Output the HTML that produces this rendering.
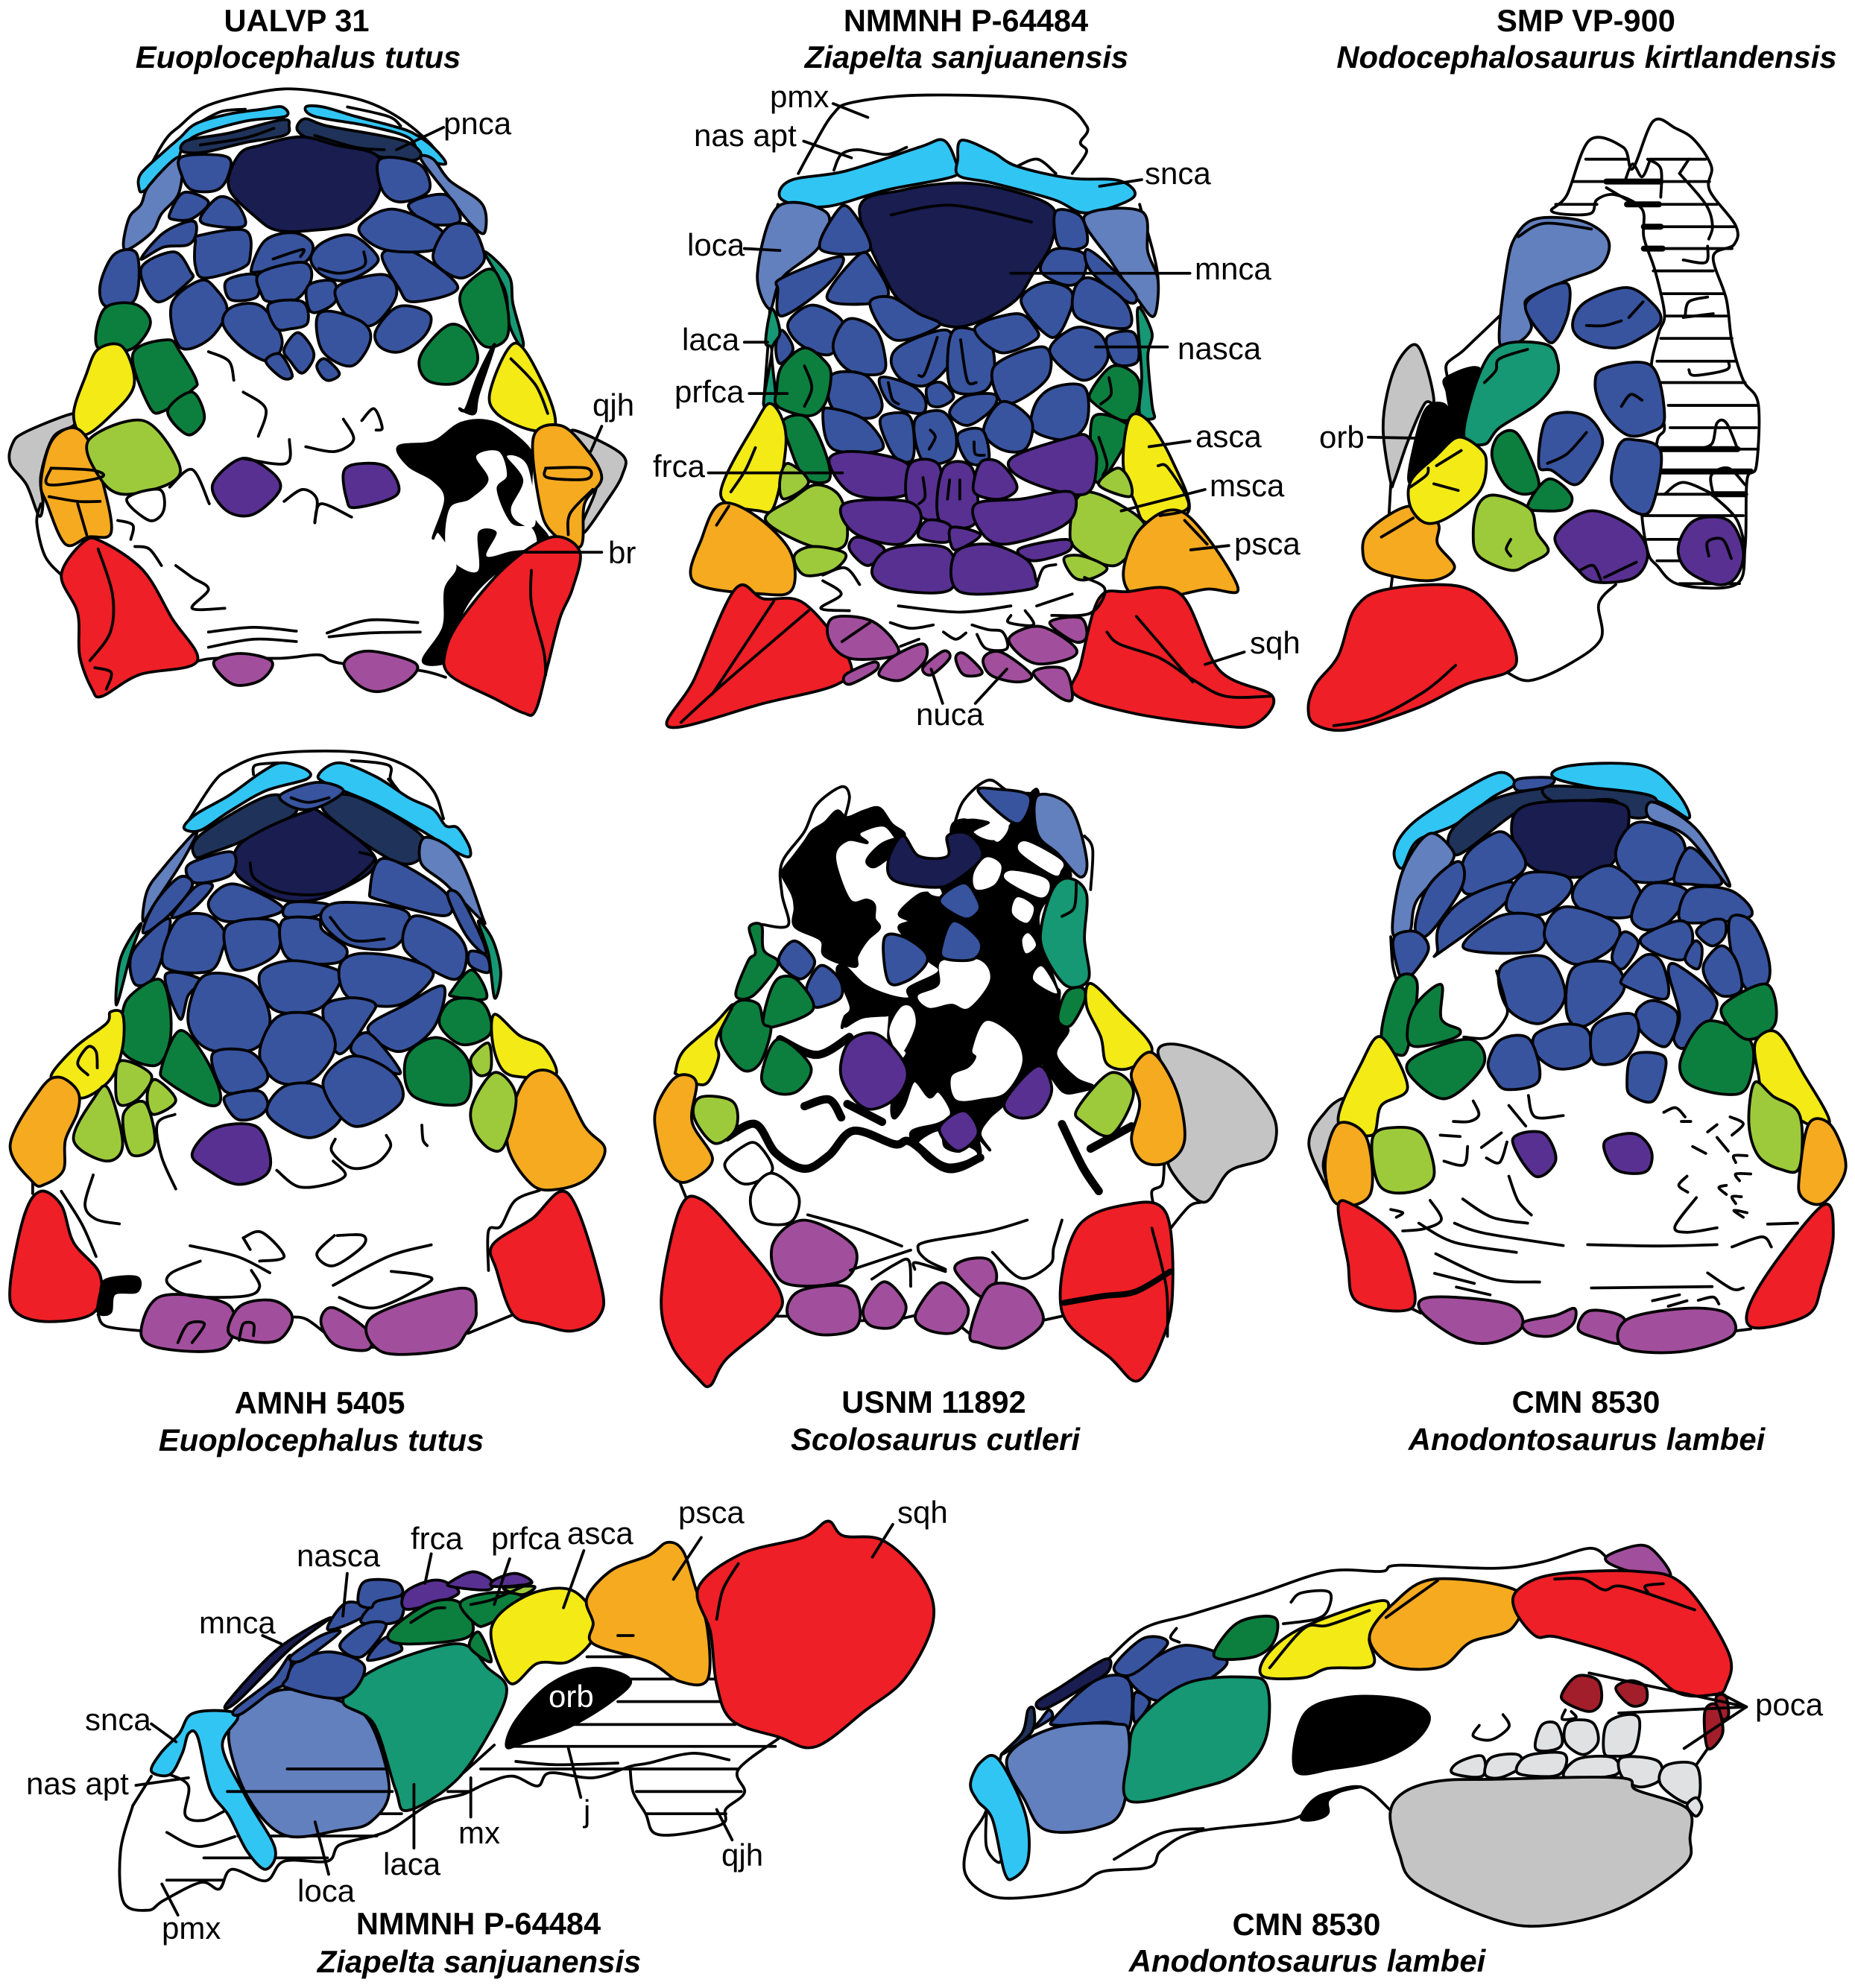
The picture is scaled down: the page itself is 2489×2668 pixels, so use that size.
<!DOCTYPE html>
<html><head><meta charset="utf-8"><style>
html,body{margin:0;padding:0;background:#fff}
svg{display:block}
polygon,polyline,path{vector-effect:non-scaling-stroke;stroke:#000;stroke-width:3.8;stroke-linejoin:round;stroke-linecap:round}
polyline,.o{fill:none}
.w polygon,.w path{fill:#fff}
.t{font:42px "Liberation Sans",sans-serif;fill:#000}
.h{font:bold 41.6px "Liberation Sans",sans-serif;text-anchor:middle}
.i{font:italic bold 41.8px "Liberation Sans",sans-serif;text-anchor:middle}
.th polyline,.th path{stroke-width:8}
.xx polyline,.xx path{stroke-width:11}
</style></head><body>
<svg xmlns="http://www.w3.org/2000/svg" width="2489" height="2668" viewBox="0 0 2489 2668">
<rect width="2489" height="2668" fill="#fff"/>

<!-- PANEL 1 -->
<g transform="scale(.5485,.6378)">
<g fill="#c4c4c4"><polygon points="180,870 60,910 30,935 25,975 65,1020 95,1085 105,1060 100,1000 130,920 180,895"/><polygon points="1400,905 1520,955 1522,1000 1480,1060 1430,1120 1425,1100 1460,1020 1440,960"/></g>
<polyline points="340,395 400,300 440,265 500,225 600,200 700,187 800,195 900,215 980,250 1050,300 1090,345"/>
<polyline points="100,1060 90,1100 110,1170 150,1210"/><polyline points="480,1392 530,1385 690,1385 780,1378 830,1395 1020,1410 1090,1425"/>
<polyline points="480,262 540,235 600,230"/><polyline points="850,225 950,245 980,265"/>
<g fill="#31c5f4"><polygon points="340,395 345,365 400,320 440,290 480,260 560,240 640,230 690,225 698,245 600,255 480,285 445,315 430,340 355,400"/><polygon points="748,225 790,225 870,245 960,265 1010,280 1060,310 1090,345 1030,330 1000,290 900,265 770,245"/></g>
<g fill="#1f3259"><polygon points="445,318 460,295 560,280 690,252 707,265 695,285 600,300 500,320"/><polygon points="728,275 745,250 800,265 930,285 1000,300 1030,325 1000,338 900,325 780,300"/></g>
<polygon fill="#191d50" points="560,395 585,325 640,305 735,288 820,305 925,330 925,410 860,470 760,485 680,485 630,460"/>
<g fill="#627fbe"><polygon points="305,525 315,460 345,430 365,390 440,330 438,405 395,450 370,490"/><polygon points="1030,335 1060,335 1100,380 1180,430 1185,490 1150,470 1100,415"/></g>
<g fill="#38549f">
<polygon points="445,330 555,330 558,370 530,400 470,400 445,370"/><polygon points="415,450 450,405 510,425 470,460 425,462"/><polygon points="490,460 535,415 580,430 598,475 520,475"/><polygon points="345,545 400,490 470,465 480,490 460,515 400,520"/><polygon points="478,510 490,495 600,485 612,540 590,565 500,585 478,560"/><polygon points="615,565 650,505 720,490 765,515 740,555 635,572"/><polygon points="760,545 790,510 860,495 920,535 915,560 850,590 790,580"/><polygon points="345,565 425,530 465,570 465,590 385,635"/><polygon points="555,590 625,578 632,620 600,632 560,628"/><polygon points="635,575 740,552 762,585 725,630 660,635 640,620"/><polygon points="755,600 815,592 820,635 770,658 752,640"/><polygon points="830,600 940,578 970,620 920,680 870,680 828,640"/><polygon points="935,535 1010,530 1120,605 1010,635 975,605"/><polygon points="420,640 490,590 530,610 555,655 510,715 440,730"/><polygon points="545,680 570,645 640,645 690,715 660,760 590,730"/><polygon points="658,640 740,635 752,680 710,692 675,690"/><polygon points="775,670 810,655 890,680 905,720 860,770 790,740"/><polygon points="920,695 975,645 1050,660 1040,705 980,740 930,730"/><polygon points="695,735 730,700 768,745 740,785 710,760"/><polygon points="650,760 685,745 715,790 690,795"/><polygon points="775,770 795,755 830,785 810,800 790,795"/><polygon points="930,335 1025,345 1050,400 980,425 935,400"/><polygon points="1000,430 1090,410 1125,465 1050,470"/><polygon points="878,480 960,440 1080,485 1065,525 940,525"/><polygon points="1060,545 1095,478 1150,475 1180,520 1180,555 1125,585"/><polygon points="245,600 280,535 335,535 330,630 260,645"/>
</g>
<polygon fill="#159873" points="1185,530 1245,580 1255,640 1280,720 1270,725 1245,680 1235,610"/>
<g fill="#0c7f3f"><polygon points="238,730 255,650 330,640 368,680 320,735"/><polygon points="325,745 410,715 440,740 480,800 470,820 400,865 365,855"/><polygon points="410,865 470,825 500,880 460,915"/><polygon points="1125,625 1165,580 1210,570 1240,640 1240,710 1190,730 1150,690"/><polygon points="1028,750 1095,685 1145,700 1168,760 1120,805 1045,800"/></g>
<g fill="#f3ea16"><polygon points="180,870 210,790 240,735 300,730 328,810 270,875 205,915"/><polygon points="1200,820 1260,722 1330,810 1358,895 1300,905 1215,870"/></g>
<g fill="#f5aa1f"><polygon points="100,1015 125,930 175,900 215,925 250,1010 272,1120 215,1130 160,1145 115,1060"/><polygon points="1305,920 1370,895 1430,940 1472,1005 1430,1060 1420,1150 1350,1120 1320,1060"/></g>
<polygon fill="#9dca3a" points="218,925 350,885 435,970 420,1015 300,1040 240,1000"/>
<polygon fill="#fff" points="310,1050 390,1030 400,1075 365,1095"/>
<g fill="#583091"><polygon points="520,1020 590,965 660,990 685,1030 620,1082 555,1075"/><polygon points="842,990 890,975 950,985 972,1040 870,1068 848,1050"/></g>
<polygon fill="#000" points="975,940 1060,930 1130,890 1210,890 1290,940 1300,980 1300,1080 1340,1130 1340,1170 1240,1190 1150,1260 1090,1370 1085,1395 1035,1390 1085,1320 1090,1240 1120,1190 1075,1120 1060,1130 1090,1050 1060,1010 1000,980"/>
<g fill="#fff"><polygon style="stroke:none" points="1165,960 1220,950 1240,1000 1215,1030 1250,1100 1300,1110 1310,1150 1250,1160 1190,1170 1215,1120 1170,1120 1170,1200 1120,1190 1090,1150 1100,1070 1150,1050 1195,1010"/><polygon style="stroke:none" points="1240,960 1290,980 1310,1100 1270,1100 1250,1070 1280,1010"/></g>
<polygon fill="#000" points="1140,860 1170,790 1210,725 1170,830 1160,870 1125,860"/>
<g fill="#ee1f26"><polygon points="150,1210 205,1140 250,1140 350,1200 420,1300 482,1392 340,1420 250,1465 225,1450 195,1380 190,1290"/><polygon points="1090,1370 1130,1300 1240,1190 1350,1130 1418,1160 1400,1240 1370,1300 1340,1400 1310,1495 1280,1500 1210,1470 1100,1420"/></g>
<g fill="#a14e9c"><polygon points="525,1390 590,1375 665,1392 640,1430 580,1442 540,1420"/><polygon points="842,1395 900,1370 1015,1395 1000,1430 930,1455 875,1440"/></g>
<polyline points="510,740 560,760 572,800"/><polyline points="595,825 650,860 632,918"/><polyline points="596,965 700,975 708,925"/><polyline points="748,940 820,950 865,925 840,882"/><polyline points="885,885 915,860 935,900 920,905"/><polyline points="415,1025 470,988 512,1060"/><polyline points="695,1055 740,1030 775,1050 770,1100 785,1060 860,1088"/><polyline points="288,1095 325,1105 320,1135"/><polyline points="330,1150 365,1155 395,1190"/><polyline points="430,1190 470,1215 510,1240 470,1280 550,1280"/><polyline points="510,1330 620,1320 725,1328"/><polyline points="510,1362 620,1345 725,1350"/><polyline points="800,1332 900,1305 1022,1310"/><polyline points="805,1340 900,1332 1028,1330"/><polyline points="240,1155 275,1250 270,1330 220,1390"/><polyline points="232,1405 272,1415 260,1450"/><polyline points="120,1045 190,1055 245,1055"/><polyline points="125,985 230,990 245,1005 120,1020 125,985"/><polyline points="190,1060 212,1125"/><polyline points="1335,985 1435,985 1435,1008 1340,1005 1335,985"/><polyline points="1390,1125 1395,1080 1450,1030"/><polyline points="1250,755 1310,810 1340,870"/><polyline points="1300,1200 1300,1270 1330,1370 1335,1420"/><polyline points="668,545 740,525 735,540"/><polyline points="780,565 830,575 890,560 890,530"/><polyline points="970,315 1085,268"/><polyline points="1445,950 1472,897"/><polyline points="1285,1162 1472,1162"/><polyline points="490,305 600,290 670,270"/><polyline points="770,285 870,310 940,315"/>
</g>

<!-- PANEL 2 -->
<g transform="translate(860,0) scale(.5485,.6378)">
<polyline points="385,365 420,310 470,240 520,215 700,200 1000,212 1090,265 1075,300 1090,320 1055,365"/>
<polyline points="472,358 490,325 530,315 600,325 650,310"/><polyline points="920,350 970,335 1015,365"/>
<polyline points="335,430 300,570 315,650 300,850"/><polyline points="1220,430 1265,590 1220,660 1250,880"/>
<g fill="#31c5f4"><polygon points="345,420 365,380 500,360 680,310 740,295 770,340 768,370 600,400 450,435"/><polygon points="785,295 860,320 920,350 1050,375 1170,380 1205,415 1090,448 1010,420 860,385 778,370 775,335"/></g>
<polygon fill="#191d50" points="535,437 640,400 780,385 900,400 1008,438 1005,510 960,575 905,640 775,688 660,650 600,590"/>
<g fill="#627fbe"><polygon points="335,435 455,448 435,520 345,585 315,650 285,575"/><polygon points="1085,455 1225,445 1240,530 1265,590 1255,665 1215,630 1150,550"/></g>
<g fill="#38549f"><polygon points="440,525 475,450 510,438 560,525"/><polygon points="335,610 345,585 490,540 455,600 345,665"/><polygon points="455,625 535,535 570,555 605,620 540,640"/><polygon points="560,640 610,625 680,660 730,685 620,715"/><polygon points="360,680 420,642 495,680 465,745 390,725"/><polygon points="470,730 505,672 570,690 595,740 590,785 510,780"/><polygon points="612,760 640,725 750,695 757,760 700,810 640,800"/><polygon points="750,780 765,695 840,705 865,760 845,820 770,825"/><polygon points="817,690 920,660 965,690 965,715 880,742"/><polygon points="1015,445 1075,455 1092,510 1060,525 1020,515"/><polygon points="978,570 1010,525 1085,535 1080,585 1040,600"/><polygon points="1090,525 1140,555 1210,620 1190,635 1100,570"/><polygon points="930,635 985,595 1050,610 1050,655 1005,710"/><polygon points="1060,610 1100,585 1185,635 1190,690 1070,670"/><polygon points="865,770 985,730 998,790 930,840 880,845"/><polygon points="1000,740 1060,690 1125,705 1140,760 1080,800"/><polygon points="1140,710 1205,700 1215,760 1160,765"/><polygon points="465,790 550,790 590,850 560,880 470,860"/><polygon points="585,795 660,810 695,840 685,870 610,850"/><polygon points="700,815 735,805 765,835 735,855 705,850"/><polygon points="755,870 790,835 865,830 860,860 800,895"/><polygon points="965,850 1010,815 1085,815 1090,890 1040,925 960,905"/><polygon points="838,905 885,845 955,885 940,945 880,945"/><polygon points="445,870 470,860 550,885 590,945 470,945"/><polygon points="585,890 610,870 660,880 665,965 620,960"/><polygon points="670,885 735,865 770,910 760,965 690,970"/><polygon points="775,915 835,905 850,970 800,972"/><polygon points="330,730 345,695 372,735 340,765"/></g>
<g fill="#159873"><polygon points="300,850 320,740 305,720 320,650 340,700 320,740 330,850"/><polygon points="1215,650 1250,700 1240,750 1250,850 1255,880 1220,870 1225,790"/></g>
<g fill="#0c7f3f"><polygon points="332,820 345,770 400,732 450,760 465,790 450,850 410,875 335,855"/><polygon points="348,885 405,878 450,950 460,1010 400,1005 360,930"/><polygon points="1100,825 1155,770 1215,795 1215,860 1180,885 1110,850"/><polygon points="1105,880 1185,890 1190,925 1115,1015"/></g>
<g fill="#f3ea16"><polygon points="195,1040 280,890 320,850 355,920 328,1060 290,1075"/><polygon points="1180,980 1195,880 1240,885 1300,970 1340,1075 1240,1100 1210,1060"/></g>
<g fill="#9dca3a"><polygon points="305,1095 370,1050 430,1020 490,1050 500,1145 420,1150"/><polygon points="340,1010 360,975 410,1015 350,1050"/><polygon points="1120,1020 1165,985 1195,1010 1195,1045"/><polygon points="1050,1110 1070,1045 1120,1040 1220,1090 1225,1125 1160,1190 1065,1155"/><polygon points="375,1170 420,1150 500,1165 470,1200 400,1210"/><polygon points="1035,1175 1080,1170 1140,1195 1100,1218 1060,1215"/></g>
<g fill="#583091"><polygon points="460,970 520,950 650,975 650,1040 520,1040"/><polygon points="660,975 730,980 730,1085 690,1090 650,1050"/><polygon points="740,985 810,985 818,1100 730,1095"/><polygon points="815,1010 835,970 880,975 920,1025 880,1050 820,1040"/><polygon points="905,965 1050,920 1095,920 1115,970 1085,1040 940,1010"/><polygon points="497,1060 650,1055 685,1095 635,1145 520,1120"/><polygon points="820,1060 930,1050 1050,1035 1058,1085 1000,1120 880,1145 825,1110"/><polygon points="680,1130 700,1095 755,1105 750,1140"/><polygon points="760,1110 830,1125 780,1155 760,1150"/><polygon points="510,1155 530,1130 595,1155 555,1190"/><polygon points="925,1155 1040,1135 1045,1160 960,1180"/><polygon points="565,1205 610,1155 750,1155 758,1240 620,1240"/><polygon points="768,1165 850,1145 940,1175 965,1215 950,1240 780,1245"/></g>
<g fill="#f5aa1f"><polygon points="130,1225 150,1130 195,1060 280,1085 365,1160 370,1240 300,1250"/><polygon points="1180,1210 1225,1110 1330,1080 1460,1235 1380,1240 1230,1262"/></g>
<g fill="#ee1f26"><polygon points="70,1530 130,1430 230,1240 300,1260 400,1270 510,1390 480,1440 300,1480"/><polygon points="1060,1460 1075,1400 1120,1260 1190,1245 1320,1250 1415,1410 1545,1465 1500,1525 1400,1525 1200,1500"/></g>
<g fill="#a14e9c"><polygon points="460,1345 470,1300 560,1305 620,1350 620,1380 510,1385"/><polygon points="1000,1310 1075,1300 1090,1340 1060,1350"/><polygon points="900,1345 975,1318 1060,1360 1050,1385 960,1395"/><polygon points="500,1420 570,1393 575,1410 510,1440"/><polygon points="585,1410 620,1380 690,1355 695,1390 640,1430 590,1425"/><polygon points="690,1405 740,1370 755,1385 710,1420"/><polygon points="770,1385 790,1375 835,1415 790,1420"/><polygon points="838,1385 880,1372 955,1420 920,1435 855,1420"/><polygon points="960,1415 1035,1408 1055,1470 1020,1465"/></g>
<polyline points="612,452 760,432 955,467"/><polyline points="470,218 555,247"/><polyline points="398,297 515,332"/><polyline points="253,523 340,527"/><polyline points="905,575 1343,575"/><polyline points="253,720 310,720"/><polyline points="265,828 358,828"/><polyline points="165,995 493,995"/><polyline points="1122,392 1225,378"/><polyline points="1112,730 1288,730"/><polyline points="1243,940 1343,928"/><polyline points="1175,1075 1380,1030"/><polyline points="1345,1157 1438,1148"/><polyline points="1380,1398 1476,1372"/><polyline points="710,1408 738,1480"/><polyline points="895,1408 818,1480"/>
<polyline points="400,770 418,815 400,855"/><polyline points="1145,795 1150,830 1125,850"/><polyline points="1120,920 1140,975 1130,1000"/><polyline points="280,942 255,990 220,1035"/><polyline points="1265,980 1290,985 1340,1065 1270,1085"/><polyline points="725,710 695,785 680,790"/><polyline points="782,715 798,800 820,805"/><polyline points="605,805 615,840 630,850"/><polyline points="690,1005 695,1045 680,1060"/><polyline points="755,1010 750,1050"/><polyline points="780,1010 780,1050"/><polyline points="708,905 720,920 705,945"/><polyline points="815,930 818,955 840,958"/><polyline points="445,1210 500,1195 535,1230"/><polyline points="445,1222 490,1250 440,1280 510,1285"/><polyline points="630,1275 780,1288 905,1275"/><polyline points="968,1275 1055,1250"/><polyline points="970,1225 985,1195 1015,1188"/><polyline points="1005,1295 1100,1290 1135,1240 1085,1215"/><polyline points="610,1310 660,1322 715,1315"/><polyline points="740,1330 770,1345 795,1332"/><polyline points="810,1315 850,1325 885,1330 895,1365 845,1365 822,1335"/><polyline points="905,1295 900,1310 960,1315 940,1285"/><polyline points="492,1350 560,1310"/><polyline points="635,1360 680,1345"/><polyline points="98,1520 200,1440 410,1285"/><polyline points="175,1460 325,1265"/><polyline points="1140,1330 1170,1355 1270,1385 1350,1430 1430,1465 1540,1465"/><polyline points="1212,1297 1300,1385 1350,1435"/><polyline points="1330,1095 1385,1145"/><polyline points="215,1065 185,1105"/></g>

<!-- PANEL 3 -->
<g transform="translate(1700,0) scale(.5032,.6378)">
<polyline points="330,1020 325,1090"/><polyline points="335,1210 330,1240"/><polyline points="620,665 560,710 520,740 480,765 480,790"/><polyline points="930,1230 885,1270 890,1345 800,1400 700,1432 640,1415"/>
<polygon fill="#fff" points="760,445 800,410 860,295 950,310 975,355 1030,255 1090,270 1140,295 1185,350 1180,400 1250,475 1245,515 1190,540 1225,630 1240,720 1270,800 1310,850 1305,980 1280,1010 1275,1150 1250,1230 1100,1230 1040,1190 1015,1160 1000,1070 1030,1040 1040,930 1060,900 1040,830 1025,770 1045,700 1060,660 1035,570 1005,500 1000,440 930,410 880,420 860,450"/>
<polyline points="850,335 960,335"/><polyline points="1020,335 1170,335"/><polyline points="815,382 905,382"/><polyline points="1040,382 1180,382"/><polyline points="770,430 880,430"/><polyline points="1050,430 1200,430"/><polyline points="1050,477 1250,477"/><polyline points="1050,523 1240,523"/><polyline points="1030,570 1190,570"/><polyline points="1050,618 1220,618"/><polyline points="1065,665 1225,665"/><polyline points="1050,712 1240,712"/><polyline points="1040,760 1250,760"/><polyline points="1050,805 1275,805"/><polyline points="1070,853 1310,853"/><polyline points="1075,900 1305,900"/><polyline points="1255,945 1310,945"/><polyline points="1025,1040 1190,1040"/><polyline points="1005,1085 1270,1085"/><polyline points="1015,1135 1275,1135"/><polyline points="1040,1180 1270,1180"/><polyline points="1100,1228 1260,1228"/>
<g class="th"><polyline points="905,382 1050,382"/><polyline points="960,430 1045,430"/><polyline points="1005,477 1050,477"/><polyline points="1005,523 1055,523"/><polyline points="1050,945 1255,945"/><polyline points="1030,992 1290,992"/><polyline points="1190,1040 1275,1040"/></g>
<polygon fill="#c4c4c4" points="330,1015 310,910 320,830 350,760 395,725 425,770 445,845 420,850 375,930 340,1010"/>
<polygon fill="#000" points="478,795 570,780 530,910 520,915 492,870 480,825"/><polygon fill="#000" points="380,1015 395,930 425,860 470,850 495,880 520,920 450,960"/>
<polygon fill="#627fbe" points="620,720 640,560 665,495 720,460 840,465 910,505 890,560 800,590 700,625 690,650 705,690 670,720"/>
<polygon fill="#159873" points="525,915 570,780 630,725 745,725 775,760 770,800 720,850 620,900 580,935"/>
<g fill="#38549f"><polygon points="690,640 795,595 805,650 775,710 745,715"/><polygon points="815,680 850,635 960,605 1030,640 1050,675 1010,705 930,732 840,715"/><polygon points="875,810 900,775 1025,770 1060,880 1020,910 960,915 900,870"/><polygon points="725,980 740,890 790,868 860,880 895,930 860,990 820,1020 760,990"/><polygon points="920,990 940,935 975,925 1050,950 1025,1070 975,1075 925,1030"/></g>
<g fill="#0c7f3f"><polygon points="600,960 620,915 670,915 725,1015 690,1040 635,1020"/><polygon points="695,1065 750,1008 810,1040 800,1070 740,1075"/></g>
<polygon fill="#f5aa1f" points="255,1155 280,1110 380,1065 455,1100 455,1145 500,1195 430,1222 285,1200"/>
<polygon fill="#f3ea16" points="380,1060 385,1010 450,960 510,920 570,945 585,975 570,1030 510,1075 450,1100 410,1095"/>
<polygon fill="#9dca3a" points="550,1120 565,1060 610,1042 700,1070 720,1120 750,1160 700,1185 650,1200 565,1170"/>
<g fill="#583091"><polygon points="768,1130 860,1075 975,1110 1015,1165 980,1215 880,1225 830,1200"/><polygon points="1097,1150 1140,1095 1230,1095 1270,1160 1250,1215 1200,1230 1120,1200"/></g>
<polygon fill="#ee1f26" points="110,1490 130,1440 190,1380 235,1280 320,1240 520,1235 620,1300 665,1380 640,1415 530,1440 400,1490 220,1535 130,1525"/>
<polyline points="178,1527 290,1510 420,1455 503,1400"/><polyline points="270,920 405,922"/><polyline points="580,805 610,780 620,755 695,735"/><polyline points="670,498 740,470 865,482"/><polyline points="852,685 900,685 945,675"/><polyline points="965,668 1003,635"/><polyline points="945,855 970,830 1000,842"/><polyline points="748,975 800,955 852,910"/><polyline points="452,980 518,948"/><polyline points="445,1018 510,1032"/><polyline points="382,1025 425,1000 430,985"/><polyline points="305,1130 390,1090"/><polyline points="650,1135 638,1155 650,1170"/><polyline points="835,1200 870,1190 890,1220"/><polyline points="900,1215 985,1183"/><polyline points="1178,1170 1175,1140 1215,1135 1238,1175"/><polyline points="1100,365 1125,335"/><polyline points="1100,365 1170,430 1188,475 1178,503"/><polyline points="1110,547 1170,552 1175,518"/><polyline points="1115,665 1125,635 1175,625"/><polyline points="1110,668 1190,660"/><polyline points="1125,778 1140,790 1225,778 1230,760"/><polyline points="1190,1040 1185,1000 1230,985 1275,1020"/><polyline points="1060,1040 1110,1015 1190,1040"/><polyline points="1185,1040 1250,1090 1275,1150"/><polyline points="905,395 980,430"/><polyline points="955,380 975,345 1000,372 1020,340"/><polyline points="1015,335 1050,355 1050,415"/><polyline points="1135,945 1185,935 1200,890 1225,890 1255,945"/></g>

<!-- PANEL 4 -->
<g transform="translate(0,980) scale(.5485,.625)">
<polyline points="450,210 520,115 560,85 640,55 760,45 900,50 1000,80 1060,130 1085,190"/>
<polyline points="620,95 625,75 680,70"/><polyline points="860,65 950,75 955,105 975,130 950,105"/><polyline points="80,970 80,995"/><polyline points="240,1255 260,1280 350,1290"/><polyline points="710,1260 750,1265 810,1305"/><polyline points="905,1325 930,1325"/><polyline points="1145,1295 1255,1255"/>
<g fill="#31c5f4"><polygon points="450,210 480,180 560,140 640,90 690,70 750,85 750,105 650,130 560,175 490,215"/><polygon points="780,95 830,70 920,100 1000,145 1060,170 1090,205 1120,210 1150,255 1135,270 1030,215 920,160 800,115"/></g>
<g fill="#1f3259"><polygon points="478,272 490,225 660,140 725,175 600,235 520,262"/><polygon points="790,170 860,140 1030,225 1022,280 950,275"/></g>
<polygon fill="#38549f" points="685,140 775,112 840,130 780,165 725,168"/>
<polygon fill="#191d50" points="578,255 640,215 750,175 790,180 920,280 815,350 730,368 660,355 580,310"/>
<g fill="#627fbe"><polygon points="350,410 360,345 400,295 470,225 480,225 440,290 380,370"/><polygon points="1030,285 1040,230 1120,270 1180,400 1175,405 1090,330"/></g>
<g fill="#159873"><polygon points="285,590 295,490 345,415 320,480"/><polygon points="1170,410 1205,450 1225,520 1210,575 1195,480"/></g>
<g fill="#38549f"><polygon points="455,300 480,280 568,262 565,310 480,328"/><polygon points="350,435 380,370 440,315 470,335 410,400"/><polygon points="420,400 480,335 520,335 470,385"/><polygon points="510,370 570,330 685,375 665,398 550,410"/><polygon points="905,345 940,275 1085,345 1090,398 930,365"/><polygon points="1095,355 1125,355 1180,450 1185,480 1140,440"/><polygon points="697,400 710,370 805,375 770,400"/><polygon points="785,405 830,370 995,390 965,465 850,460"/><polygon points="325,475 415,405 380,525 330,545"/><polygon points="400,505 430,410 500,395 548,430 545,470 510,518"/><polygon points="555,420 670,410 680,475 610,512 565,505"/><polygon points="690,410 775,405 790,430 848,470 820,500 705,490"/><polygon points="990,470 1010,400 1100,425 1140,470 1130,525 1090,530"/><polygon points="1150,475 1190,485 1195,520 1150,505"/><polygon points="405,525 490,535 460,570 440,620"/><polygon points="635,525 710,495 825,515 830,545 775,600 670,600"/><polygon points="830,510 875,480 990,490 1060,525 975,590 855,575"/><polygon points="460,625 495,530 590,530 640,565 660,630 620,685 510,685"/><polygon points="790,600 850,575 915,585 905,615 830,695"/><polygon points="900,640 990,590 1085,550 1060,640 975,690"/><polygon points="860,690 900,650 975,725 960,735"/><polygon points="635,695 680,615 780,615 820,680 765,750 680,755"/><polygon points="520,695 610,690 655,740 625,770 550,775"/><polygon points="548,795 570,780 635,775 655,805 630,830 580,835"/><polygon points="655,825 695,765 785,765 835,830 755,875"/><polygon points="790,760 860,700 960,735 980,800 865,850"/></g>
<g fill="#0c7f3f"><polygon points="300,605 325,565 390,535 415,590 415,670 380,720 300,690"/><polygon points="395,725 440,645 500,700 540,785 510,805 410,755"/><polygon points="1105,560 1155,515 1190,575 1110,572"/><polygon points="1075,630 1105,580 1180,585 1200,650 1130,675"/><polygon points="995,700 1070,660 1145,710 1135,800 1010,785"/></g>
<g fill="#f3ea16"><polygon points="125,742 185,680 260,630 270,605 300,610 300,680 270,750 200,790 165,755"/><polygon points="1205,670 1210,610 1270,655 1330,680 1360,740 1280,745 1230,730"/></g>
<g fill="#f5aa1f"><polygon points="25,890 100,770 145,745 190,775 190,820 160,880 155,945 110,975 80,970"/><polygon points="1240,880 1285,750 1360,740 1430,850 1480,900 1440,960 1370,985 1300,975"/></g>
<g fill="#9dca3a"><polygon points="283,770 295,710 370,740 340,790 295,805"/><polygon points="360,785 380,750 430,795 375,825"/><polygon points="180,880 230,790 265,770 300,890 258,925"/><polygon points="302,825 355,800 378,890 320,910"/><polygon points="1152,705 1195,672 1200,730 1170,740"/><polygon points="1155,805 1210,735 1262,785 1235,890 1200,900 1160,860"/></g>
<polygon fill="#583091" points="470,910 525,855 625,850 660,910 650,955 580,975 510,945"/>
<g fill="#ee1f26"><polygon points="25,1190 60,1040 100,990 150,1020 180,1100 245,1170 230,1250 120,1270 40,1250"/><polygon points="1205,1105 1300,1050 1390,995 1470,1190 1465,1260 1400,1290 1320,1275 1255,1255 1215,1160"/></g>
<g fill="#a14e9c"><polygon points="345,1295 395,1215 560,1235 550,1325 400,1328"/><polygon points="558,1290 590,1235 670,1225 715,1260 680,1310 600,1310"/><polygon points="785,1270 815,1240 900,1290 900,1330 820,1320"/><polygon points="910,1260 1130,1198 1165,1250 1140,1295 1095,1330 935,1335"/></g>
<polygon fill="#000" points="245,1210 260,1180 335,1175 335,1205 280,1210 270,1250 240,1250"/>
<polyline points="428,825 385,845 395,915 430,985"/><polyline points="228,955 208,1020 235,1050 292,1060"/><polyline points="150,990 200,1060 235,1130"/><polyline points="677,945 730,980 800,975 845,955 815,925"/><polyline points="820,878 812,905 860,940 920,930 955,895 945,870"/><polyline points="1032,848 1035,880 1045,892"/><polyline points="1320,988 1260,1010 1225,1065 1195,1075 1195,1160"/><polyline points="465,1107 580,1130 660,1165"/><polyline points="595,1090 640,1078 695,1130 635,1140"/><polyline points="595,1090 612,1115"/><polyline points="490,1140 420,1165 412,1190 470,1215 600,1215 635,1195 615,1160"/><polyline points="818,1085 775,1125 815,1150 885,1110 888,1085 825,1085"/><polyline points="815,1192 950,1130 1055,1105"/><polyline points="957,1162 1030,1170 1050,1185 920,1240 830,1218"/><polyline points="435,1315 460,1275 500,1275 470,1315"/><polyline points="585,1310 595,1275 620,1275 620,1300"/><polyline points="215,740 190,715 215,680 235,690 238,725"/><polyline points="612,285 625,320 700,350 820,345 915,280 880,262"/><polyline points="712,145 755,155 805,145"/><polyline points="808,402 860,450 940,448"/></g>

<!-- PANEL 5 black matrix -->
<g transform="translate(1000,1040) scale(.3333,.3571)">
<polygon fill="#000" points="150,360 200,300 240,250 270,210 320,180 370,135 410,160 480,135 540,125 590,185 640,220 620,250 560,190 470,210 460,230 490,255 410,245 360,310 420,470 490,470 520,490 520,540 540,575 490,620 450,680 440,720 320,680 305,620 200,570 200,500 190,450 150,380"/>
<polygon fill="#000" points="490,320 550,260 620,240 630,270 590,300 520,345"/>
<polygon fill="#000" points="840,180 980,175 920,220 1000,250 1060,200 1150,70 1180,70 1170,210 1240,270 1310,380 1230,450 1180,530 1200,640 1250,790 1265,820 1255,930 1300,960 1250,1050 1330,1140 1400,1170 1340,1190 1280,1190 1220,1120 1180,1090 1050,1230 980,1290 945,1350 985,1410 940,1370 940,1440 830,1490 750,1460 690,1400 670,1340 780,1310 830,1270 780,1190 740,1210 680,1150 640,1240 600,1290 590,1240 620,1100 650,1040 580,1000 570,880 420,910 390,950 400,910 425,870 370,740 400,720 480,790 580,830 660,840 660,800 780,740 730,690 620,580 660,550 620,520 700,450 780,430 830,300"/>
<g fill="#fff"><polygon style="stroke:none" points="920,370 970,310 1030,340 1005,410 930,430"/><polygon style="stroke:none" points="1105,290 1130,250 1270,320 1270,360 1240,375"/><polygon style="stroke:none" points="1050,395 1070,360 1200,385 1225,425 1185,460"/><polygon style="stroke:none" points="1075,520 1095,460 1160,495 1135,555"/><polygon style="stroke:none" points="1115,620 1140,595 1170,640 1130,670"/><polygon style="stroke:none" points="695,830 780,790 790,700 940,695 985,770 900,875 830,860 740,875"/><polygon style="stroke:none" points="580,960 625,875 670,875 685,940 640,1035 610,1040"/><polygon style="stroke:none" points="915,1030 970,925 1080,985 1115,1080 1050,1190 960,1215 850,1220 830,1135 900,1100 930,1060"/><polygon style="stroke:none" points="1160,770 1195,720 1255,820"/><polygon style="stroke:none" points="700,1380 780,1340 800,1400 860,1420 900,1400 930,1430 820,1460 730,1410"/><polygon style="stroke:none" points="735,430 780,425 790,455 750,450"/><polygon style="stroke:none" points="880,160 900,110 1000,130 1060,190 1020,250 980,230 920,215 985,180 930,165"/></g>
</g>

<!-- PANEL 5 -->
<g transform="translate(860,1020) scale(.5485,.5995)">
<polyline points="295,368 360,370 345,300 345,230 400,160 430,100 490,60 510,80 500,125"/><polyline points="765,150 790,90 850,45 900,70 960,75"/><polyline points="1085,170 1105,200 1100,290"/><polyline points="95,945 115,990"/><polyline points="1280,905 1275,950 1250,965 1255,1000"/><polyline points="1290,1055 1340,1000 1370,990"/><polyline points="325,1245 360,1245"/><polyline points="535,1255 545,1255"/><polyline points="640,1250 672,1243"/><polyline points="785,1270 805,1285"/><polyline points="980,1255 1030,1245"/>
<g class="xx"><polyline points="210,845 280,815 330,880 400,915 460,885 520,830 620,860 660,855 750,915 830,890"/><polyline points="1030,815 1080,910 1120,965"/><polyline points="1100,870 1200,820"/><polyline points="400,775 460,760 490,800"/><polyline points="505,770 590,810"/><polyline points="340,625 430,660 510,620"/><polyline points="500,590 540,570 600,565"/></g>
<polygon fill="#191d50" points="605,225 640,170 680,215 750,215 750,170 800,165 835,215 770,270 720,285 620,270"/>
<g fill="#38549f"><polygon points="730,315 790,275 825,315 825,340 790,355"/><polygon points="735,420 765,360 830,405 815,445 745,445"/><polygon points="595,400 640,395 695,430 695,460 650,495 605,495"/><polygon points="825,70 870,65 950,80 935,135 900,135"/><polygon points="337,450 375,405 425,450 390,490"/><polygon points="405,510 440,460 485,490 490,530 450,550 420,550"/></g>
<polygon fill="#627fbe" points="970,80 1050,105 1090,220 1075,262 1020,210 970,165"/>
<polygon fill="#159873" points="980,370 1010,285 1050,265 1090,300 1085,400 1095,490 1040,505 985,430"/>
<g fill="#0c7f3f"><polygon points="265,375 295,370 300,425 335,450 320,480 270,530 232,525 262,450 280,430"/><polygon points="300,575 320,510 345,485 385,495 420,560 310,600"/><polygon points="195,620 230,545 285,545 300,590 318,605 290,680 245,692"/><polygon points="295,710 335,625 415,685 385,740 330,745"/><polygon points="1020,580 1040,520 1080,510 1085,540 1050,595"/></g>
<polygon fill="#c4c4c4" points="1265,650 1330,640 1450,690 1530,770 1555,830 1530,890 1440,920 1375,990 1290,905 1330,850 1305,740"/>
<g fill="#f3ea16"><polygon points="85,695 105,650 180,590 225,548 185,625 190,665 165,720 135,725 90,705"/><polygon points="1090,550 1100,500 1170,560 1250,645 1195,690 1140,680 1125,620"/></g>
<g fill="#f5aa1f"><polygon points="37,780 85,710 135,720 125,810 175,895 110,945 65,920 40,850"/><polygon points="1200,850 1220,770 1200,700 1250,655 1310,740 1330,850 1290,900 1230,900"/></g>
<g fill="#9dca3a"><polygon points="130,800 145,755 225,765 232,825 180,858"/><polygon points="1068,780 1150,700 1205,745 1150,840 1080,810"/></g>
<g fill="#583091"><polygon points="490,710 510,630 580,615 650,690 625,755 550,780"/><polygon points="890,765 970,685 1005,735 975,790 920,800"/><polygon points="730,825 790,785 825,835 775,875"/></g>
<g class="w"><polygon points="205,905 250,865 285,860 322,915 280,945 240,945"/><polygon points="270,970 320,925 385,975 365,1035 285,1030"/></g>
<g fill="#a14e9c"><polygon points="322,1085 400,1030 522,1090 495,1165 350,1170"/><polygon points="360,1245 385,1190 500,1178 535,1225 520,1275 430,1285"/><polygon points="545,1225 595,1168 648,1220 620,1268 560,1265"/><polygon points="672,1240 735,1170 800,1225 770,1280 700,1275"/><polygon points="770,1145 790,1120 850,1118 870,1160 840,1205"/><polygon points="805,1285 850,1180 930,1180 970,1215 980,1265 900,1315 830,1305"/></g>
<g fill="#ee1f26"><polygon points="50,1200 95,1005 150,985 250,1080 340,1190 325,1250 210,1340 170,1400 140,1385 75,1310"/><polygon points="1030,1235 1065,1050 1190,995 1285,1015 1300,1200 1270,1310 1215,1390 1150,1340"/></g>
<g class="th"><polyline points="1035,1215 1130,1200 1210,1190 1295,1145"/></g>
<polyline points="1250,1048 1285,1180 1288,1290"/>
<polyline points="408,1018 530,1050 638,1088"/><polyline points="512,1142 660,1097"/><polyline points="945,1030 850,1055 700,1078 678,1095 700,1120 745,1140"/><polyline points="565,1162 620,1130 655,1120 660,1178"/><polyline points="670,1140 672,1125 745,1145"/><polyline points="860,1102 930,1160 1000,1130 1010,1090 1030,1030"/><polyline points="1030,350 1060,330 1065,275"/></g>

<!-- PANEL 6 -->
<g transform="translate(1700,1000) scale(.5032,.6122)">
<polygon fill="#c4c4c4" points="112,878 160,800 210,775 190,830 150,920 185,1005"/>
<polyline points="330,420 335,480 345,515"/><polyline points="385,1235 410,1245"/><polyline points="1240,1285 1290,1280"/>
<g fill="#31c5f4"><polygon points="340,230 390,170 520,100 620,60 660,85 600,115 500,175 400,210 360,270"/><polygon points="775,75 810,45 1000,45 1090,100 1125,160 1030,120"/></g>
<polygon fill="#38549f" points="668,75 760,72 750,90 670,100"/>
<g fill="#1f3259"><polygon points="490,190 600,120 750,95 750,125 660,150 510,240"/><polygon points="755,90 1020,110 1015,155 960,155 920,120 770,125"/></g>
<polygon fill="#191d50" points="652,185 700,130 925,125 965,165 920,260 820,290 700,265"/>
<g fill="#627fbe"><polygon points="335,410 360,280 430,195 490,225 490,260 400,340 380,410"/><polygon points="1020,160 1030,125 1140,180 1220,280 1225,305 1120,200"/></g>
<g fill="#38549f"><polygon points="525,250 590,200 640,195 690,260 640,300 530,325"/><polygon points="930,235 985,170 1095,195 1115,250 1075,295 970,295"/><polygon points="1085,295 1125,225 1190,270 1210,305 1130,305"/><polygon points="395,400 430,310 510,255 520,310 430,415"/><polygon points="455,450 460,395 530,335 650,300 630,350 460,455"/><polygon points="640,360 680,285 790,285 810,320 740,370"/><polygon points="815,335 840,290 920,265 995,320 970,375 860,370"/><polygon points="972,375 1020,305 1120,320 1075,385 1010,405"/><polygon points="1098,375 1130,315 1240,320 1290,375 1140,390"/><polygon points="525,445 620,375 730,380 720,450"/><polygon points="740,420 790,355 930,390 920,445 820,480"/><polygon points="1000,420 1100,385 1135,415 1110,470 1020,450"/><polygon points="920,465 950,410 990,435 950,490"/><polygon points="1145,410 1180,385 1220,385 1220,420 1185,440"/><polygon points="1235,380 1290,385 1335,460 1335,520 1280,535 1240,460"/><polygon points="1115,470 1140,430 1160,445 1150,490"/><polygon points="1165,480 1210,440 1250,470 1265,535 1215,550 1175,520"/><polygon points="340,420 400,410 430,450 370,515 345,480"/><polygon points="625,485 745,465 795,550 730,610 640,575"/><polygon points="800,590 815,490 920,478 950,540 850,615"/><polygon points="948,510 1010,460 1055,480 1065,555 960,530"/><polygon points="1070,495 1100,485 1200,565 1120,660 1085,645 1100,590"/><polygon points="985,585 1030,560 1095,590 1065,660 1000,630"/><polygon points="715,635 790,612 855,625 860,690 780,710 720,680"/><polygon points="865,630 900,600 975,590 990,635 950,690 875,695"/><polygon points="590,695 625,645 700,645 725,735 640,755 605,730"/><polygon points="960,745 975,680 1055,680 1060,720 1030,780 975,770"/></g>
<g fill="#0c7f3f"><polygon points="305,640 345,515 400,520 380,650 355,680"/><polygon points="375,620 400,565 465,525 465,600 515,625 490,645 390,660"/><polygon points="378,720 400,680 540,645 578,700 475,775"/><polygon points="1105,685 1175,605 1290,650 1280,750 1215,765 1120,740"/><polygon points="1215,595 1230,560 1335,525 1355,610 1280,645"/></g>
<g fill="#f3ea16"><polygon points="190,825 250,700 305,640 375,750 305,790 280,855"/><polygon points="1303,650 1360,630 1430,720 1500,825 1440,830 1330,760 1310,720"/></g>
<g fill="#f5aa1f"><polygon points="155,920 190,830 265,860 275,985 185,1005"/><polygon points="1420,940 1445,830 1500,830 1540,900 1535,950 1480,1005 1425,990"/></g>
<g fill="#9dca3a"><polygon points="282,860 345,838 415,855 445,945 380,980 300,965"/><polygon points="1300,740 1350,770 1420,810 1420,925 1370,930 1310,900 1285,830"/></g>
<g fill="#583091"><polygon points="655,865 735,850 770,910 715,945"/><polygon points="900,870 980,852 1025,890 1010,935 930,930"/></g>
<g fill="#ee1f26"><polygon points="190,1010 235,1010 335,1070 378,1145 385,1235 240,1220 215,1130"/><polygon points="1290,1275 1310,1190 1480,1010 1510,1075 1480,1180 1440,1250"/></g>
<g fill="#a14e9c"><polygon points="410,1240 440,1210 640,1225 680,1275 600,1310 510,1300"/><polygon points="685,1265 770,1250 820,1235 815,1270 760,1295 700,1290"/><polygon points="830,1280 860,1240 950,1255 950,1310 880,1300"/><polygon points="958,1260 1110,1235 1225,1245 1240,1295 1100,1330 950,1320"/></g>
<polyline points="612,495 635,560 638,595 590,640 525,640"/><polyline points="550,780 565,810 540,825 497,825"/><polyline points="645,790 690,835"/><polyline points="697,768 715,815 790,812"/><polyline points="462,855 515,858"/><polyline points="572,882 625,850"/><polyline points="472,912 525,920 535,880"/><polyline points="585,905 620,915 640,870"/><polyline points="645,945 670,1000 705,1030"/><polyline points="522,995 600,1035 695,1048"/><polyline points="500,1048 580,1070 790,1097"/><polyline points="362,1065 420,1060 465,1040 435,998"/><polyline points="330,1018 362,1025 345,1035"/><polyline points="405,1048 500,1090 665,1112"/><polyline points="450,1115 600,1170 727,1177"/><polyline points="447,1158 553,1180"/><polyline points="505,1188 595,1205"/><polyline points="855,1095 1040,1098 1200,1095"/><polyline points="865,1190 1187,1187"/><polyline points="1175,1157 1240,1192 1270,1190"/><polyline points="1028,1218 1100,1205"/><polyline points="1070,1230 1120,1218"/><polyline points="1150,1217 1190,1210 1205,1225"/><polyline points="1240,1100 1320,1078 1345,1100"/><polyline points="1335,1050 1415,1048"/><polyline points="1145,992 1088,1055 1120,1068 1200,1058"/><polyline points="1120,945 1098,965 1122,980"/><polyline points="1058,805 1090,795 1115,815"/><polyline points="1105,825 1130,825"/><polyline points="1175,848 1200,832"/><polyline points="1135,880 1170,895"/><polyline points="1200,860 1230,890"/><polyline points="1235,815 1270,830 1240,855"/><polyline points="1280,900 1245,900 1250,915"/><polyline points="1290,940 1250,940 1260,955"/><polyline points="1225,965 1205,970 1225,985"/><polyline points="1265,990 1240,990 1250,1005"/><polyline points="1280,1025 1245,1020 1270,1035"/></g>

<!-- PANEL 7 -->
<g transform="translate(0,1980) scale(.829,.4388)">
<polyline points="215,1010 195,1150 200,1305 240,1330 265,1300 325,1245 355,1265 375,1205 430,1240 460,1180 530,1180 550,1130 610,1100 640,1075 700,1000 750,975 790,940 830,920 870,950 890,910 960,925 1020,890 1050,880 1120,850 1180,870"/>
<polyline points="1020,900 1025,970 1045,1035 1060,1095 1110,1095 1170,1065 1175,1020 1205,970 1195,900 1260,805"/>
<polyline points="215,1010 245,920"/><polyline points="275,915 305,950 300,1040 330,1055 365,1025"/><polyline points="270,1092 320,1135 380,1105"/><polyline points="835,875 900,885 1000,880"/>
<polyline points="778,898 1195,898"/><polyline points="725,967 760,967"/><polyline points="1030,967 1200,967"/><polyline points="1045,1035 1175,1035"/><polyline points="950,555 1085,555"/><polyline points="1020,623 1160,623"/><polyline points="1000,692 1165,692"/><polyline points="925,762 1190,762"/><polyline points="820,829 1255,829"/><polyline points="385,1103 610,1103"/><polyline points="330,1170 530,1170"/><polyline points="270,1238 360,1238"/><polyline points="375,1035 650,1035"/>
<polygon fill="#627fbe" points="370,800 395,720 460,655 550,690 600,760 630,960 600,1060 550,1085 460,1100 400,980"/>
<polygon fill="#31c5f4" points="245,905 260,850 290,790 310,730 360,720 385,740 360,830 400,990 445,1140 430,1205 400,1150 370,1040 340,960 320,800 305,790 295,850 275,915"/>
<polygon fill="#191d50" points="368,695 450,530 535,435 470,530 385,690"/>
<polygon fill="#159873" points="555,690 610,590 740,515 790,590 820,650 800,760 740,930 660,1025 640,960 605,760"/>
<g fill="#38549f"><polygon points="380,715 440,625 470,550 465,630 440,660 390,730"/><polygon points="465,620 480,570 535,540 590,585 555,680 465,650"/><polygon points="470,555 520,490 550,480 490,565"/><polygon points="530,470 560,390 600,410 570,450"/><polygon points="585,450 610,385 650,370 645,445"/><polygon points="590,325 640,325 650,365 610,385 600,405 580,390"/><polygon points="550,520 590,455 625,460 585,555"/><polygon points="595,565 625,495 650,535"/></g>
<g fill="#583091"><polygon points="655,360 690,325 720,325 740,365 660,410"/><polygon points="730,325 765,295 795,320 790,350 730,340"/><polygon points="800,320 835,300 860,330 800,340"/></g>
<polygon fill="#9dca3a" points="815,345 865,340 845,365"/>
<g fill="#0c7f3f"><polygon points="630,480 690,395 740,385 765,450 750,500 650,515"/><polygon points="745,390 790,360 840,365 840,400 790,455 770,455"/><polygon points="760,525 775,480 795,570"/></g>
<polygon fill="#f3ea16" points="795,470 850,370 920,348 960,420 960,500 920,570 870,575 825,635"/>
<polygon fill="#f5aa1f" points="950,375 990,290 1050,245 1080,205 1105,230 1125,340 1145,470 1145,625 1100,630 1050,570 960,515 960,450"/>
<polygon fill="#ee1f26" points="1130,345 1200,240 1300,190 1340,140 1365,185 1430,200 1495,320 1510,450 1465,620 1400,720 1320,830 1260,800 1185,750 1160,640 1150,480"/>
<polygon fill="#000" points="820,830 835,750 890,640 960,590 1020,625 990,690 920,770 850,815"/>
<polyline points="465,898 625,898"/><polyline points="368,967 635,967"/><polyline points="425,490 455,515"/><polyline points="562,300 555,430"/><polyline points="698,240 688,330"/><polyline points="825,255 800,395"/><polyline points="945,230 912,405"/><polyline points="1135,190 1090,318"/><polyline points="1445,150 1412,250"/><polyline points="245,760 285,815"/><polyline points="220,948 305,925"/><polyline points="510,1060 532,1220"/><polyline points="670,945 670,1140"/><polyline points="762,925 762,1045"/><polyline points="800,825 750,910"/><polyline points="920,835 940,985"/><polyline points="1160,1022 1185,1115"/><polyline points="262,1250 288,1345"/><polyline points="1195,270 1170,350 1160,440"/><polyline points="665,450 700,410 720,405"/><polyline points="762,395 800,378 860,328"/><polyline points="1000,490 1025,490"/>
</g>

<!-- PANEL 8 -->
<g transform="translate(1240,2020) scale(.7966,.4133)">
<polyline points="130,810 105,990 75,1090 70,1200 115,1270 190,1270 260,1240 300,1190 380,1175 400,1120 460,1060 620,1020 665,950 735,915 785,990"/><polyline points="320,1150 400,1065 470,1050"/><polyline points="310,500 370,400 450,355 560,290 680,215 770,215 800,195 960,205 1040,185 1120,140 1150,170"/><polyline points="1300,845 1320,790"/><polyline points="105,1000 105,1110 125,1160 135,1130"/>
<polyline points="618,315 635,285 682,282 680,340 660,370 605,385"/><polyline points="425,400 415,430 430,445"/>
<polygon fill="#31c5f4" points="78,905 95,835 125,825 170,1000 175,1150 150,1212 135,1190 115,1020 90,960"/>
<polygon fill="#1f3259" points="130,810 165,740 175,665 185,665 180,740"/>
<polygon fill="#191d50" points="190,640 230,590 305,500 310,540 270,590 205,660"/>
<g fill="#38549f"><polygon points="220,690 290,568 345,570 345,725 310,705 225,715"/><polygon points="345,570 365,525 440,455 510,515 405,635"/><polygon points="320,525 370,432 410,450 350,550"/><polygon points="355,610 380,640 355,705"/><polygon points="195,700 210,665 215,690 185,725"/></g>
<polygon fill="#627fbe" points="140,820 215,725 320,710 345,750 335,980 290,1048 205,1055 170,960"/>
<polygon fill="#159873" points="345,810 360,700 440,580 540,558 578,590 575,760 530,870 460,920 345,960"/>
<polygon fill="#0c7f3f" points="490,470 530,380 590,365 590,440 560,490 500,500"/>
<polygon fill="#f3ea16" points="570,555 580,480 640,395 770,310 775,370 750,430 755,520 680,530 640,560"/>
<polygon fill="#f5aa1f" points="750,430 790,320 860,240 1000,280 990,400 920,445 870,525 790,520"/>
<polygon fill="#a14e9c" points="1148,170 1205,130 1235,160 1255,235 1180,210"/>
<polygon fill="#ee1f26" points="995,340 1000,275 1060,225 1200,215 1280,260 1355,480 1350,590 1330,615 1270,610 1200,510 1070,430 1030,425"/>
<g fill="#a21e2a"><polygon points="1075,610 1100,555 1135,570 1140,640 1120,670 1080,640"/><polygon points="1165,595 1190,570 1215,590 1215,640 1190,650"/><polygon points="1335,620 1350,620 1355,680 1345,695 1335,655"/><polygon points="1315,670 1335,650 1345,740 1320,790"/></g>
<polygon fill="#000" points="625,860 640,680 710,625 800,630 850,680 830,760 770,825 690,855"/>
<polygon fill="#000" points="635,1015 665,945 735,915 700,930 680,960 680,1000 660,1020"/>
<polygon fill="#e0e1e3" points="1030,790 1040,715 1065,710 1075,770 1060,795"/><polygon fill="#e0e1e3" points="1080,770 1085,705 1125,705 1135,770 1110,810"/><polygon fill="#e0e1e3" points="1145,800 1150,710 1185,680 1205,700 1195,800 1160,815"/><polygon fill="#e0e1e3" points="890,870 900,835 940,815 940,880"/><polygon fill="#e0e1e3" points="945,875 955,820 1000,810 1005,850 970,885"/><polygon fill="#e0e1e3" points="1000,870 1015,815 1075,805 1080,850 1060,880"/><polygon fill="#e0e1e3" points="1080,885 1100,825 1160,820 1165,875"/><polygon fill="#e0e1e3" points="1175,880 1175,820 1235,830 1240,890 1205,915"/><polygon fill="#e0e1e3" points="1240,905 1250,845 1300,845 1305,950 1280,965"/><polygon fill="#e0e1e3" points="1285,975 1300,950 1310,980 1300,1010"/>
<polygon fill="#c4c4c4" points="785,1000 810,930 870,895 960,890 1170,885 1200,925 1285,985 1290,1080 1280,1170 1170,1310 1050,1365 960,1345 830,1230 800,1130"/>
<polyline points="1385,655 1120,545"/><polyline points="1385,655 1170,675"/><polyline points="1385,655 1280,790"/><polyline points="1385,655 1340,610"/>
<polyline points="582,528 640,400 680,390 750,342"/><polyline points="778,365 865,245"/><polyline points="1062,240 1110,240 1145,275 1180,265 1298,340"/><polyline points="1245,255 1215,262 1220,285"/><polyline points="975,680 985,720 955,762 925,750 935,715"/><polyline points="1080,665 1075,695 1098,690 1090,670"/>
</g>

<!-- TITLES -->
<text class="h" x="398" y="42">UALVP 31</text><text class="i" x="400" y="91">Euoplocephalus tutus</text>
<text class="h" x="1296" y="42">NMMNH P-64484</text><text class="i" x="1297" y="91">Ziapelta sanjuanensis</text>
<text class="h" x="2128" y="42">SMP VP-900</text><text class="i" x="2129" y="91">Nodocephalosaurus kirtlandensis</text>
<text class="h" x="429" y="1897">AMNH 5405</text><text class="i" x="431" y="1947">Euoplocephalus tutus</text>
<text class="h" x="1253" y="1896">USNM 11892</text><text class="i" x="1255" y="1946">Scolosaurus cutleri</text>
<text class="h" x="2128" y="1896">CMN 8530</text><text class="i" x="2129" y="1946">Anodontosaurus lambei</text>
<text class="h" x="642" y="2596">NMMNH P-64484</text><text class="i" x="643" y="2647">Ziapelta sanjuanensis</text>
<text class="h" x="1753" y="2597">CMN 8530</text><text class="i" x="1754" y="2646">Anodontosaurus lambei</text>

<!-- LABELS -->
<g class="t">
<text x="595" y="180">pnca</text><text x="795" y="558">qjh</text><text x="816" y="756">br</text>
<text x="1033" y="144">pmx</text><text x="931" y="196">nas apt</text><text x="922" y="343">loca</text><text x="915" y="470">laca</text><text x="905" y="540">prfca</text><text x="876" y="640">frca</text><text x="1536" y="247">snca</text><text x="1603" y="375">mnca</text><text x="1580" y="482">nasca</text><text x="1604" y="600">asca</text><text x="1623" y="666">msca</text><text x="1656" y="744">psca</text><text x="1677" y="877">sqh</text><text x="1229" y="973">nuca</text>
<text x="1770" y="601">orb</text>
<text x="1204" y="2044">sqh</text><text x="910" y="2044">psca</text><text x="761" y="2072">asca</text><text x="659" y="2079">prfca</text><text x="551" y="2079">frca</text><text x="398" y="2102">nasca</text><text x="267" y="2192">mnca</text><text x="114" y="2322">snca</text><text x="35" y="2408">nas apt</text><text x="736" y="2291" style="fill:#fff">orb</text><text x="615" y="2474">mx</text><text x="783" y="2445">j</text><text x="514" y="2516">laca</text><text x="399" y="2552">loca</text><text x="217" y="2602">pmx</text><text x="968" y="2504">qjh</text>
<text x="2355" y="2302">poca</text>
</g>
</svg>
<script>
(function(){
var NS="http://www.w3.org/2000/svg";
function pts(s){var n=s.trim().split(/[\s,]+/).map(Number),o=[];for(var i=0;i+1<n.length;i+=2)o.push([n[i],n[i+1]]);return o;}
function seg(a,b,c,d){var k=6;return "C"+(b[0]+(c[0]-a[0])/k).toFixed(1)+" "+(b[1]+(c[1]-a[1])/k).toFixed(1)+" "+(c[0]-(d[0]-b[0])/k).toFixed(1)+" "+(c[1]-(d[1]-b[1])/k).toFixed(1)+" "+c[0]+" "+c[1];}
var els=[].slice.call(document.querySelectorAll("polygon,polyline"));
els.forEach(function(e){
 var p=pts(e.getAttribute("points")),closed=e.tagName.toLowerCase()==="polygon",n=p.length,d;
 if(n<3)return;
 d="M"+p[0][0]+" "+p[0][1];
 if(closed){for(var i=0;i<n;i++)d+=seg(p[(i-1+n)%n],p[i],p[(i+1)%n],p[(i+2)%n]);d+="Z";}
 else{for(var j=0;j<n-1;j++)d+=seg(p[Math.max(j-1,0)],p[j],p[j+1],p[Math.min(j+2,n-1)]);}
 var q=document.createElementNS(NS,"path");q.setAttribute("d",d);
 if(e.getAttribute("fill"))q.setAttribute("fill",e.getAttribute("fill"));
 if(e.getAttribute("style"))q.setAttribute("style",e.getAttribute("style"));
 if(!closed)q.setAttribute("class","o");
 e.parentNode.replaceChild(q,e);
});
})();
</script>
</body></html>
